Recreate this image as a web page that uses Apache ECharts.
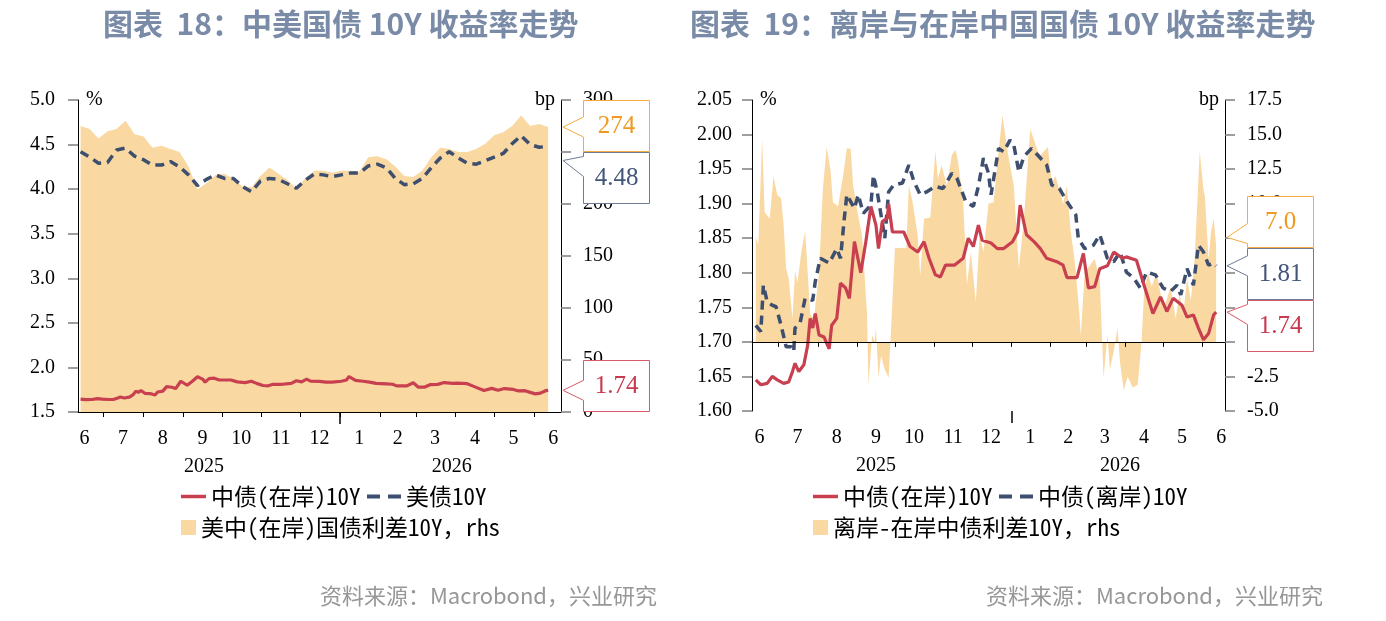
<!DOCTYPE html>
<html><head><meta charset="utf-8">
<script src="https://cdn.jsdelivr.net/npm/echarts@6/dist/echarts.min.js"></script>
<style>html,body{margin:0;padding:0;background:#fff;}#c{width:1386px;height:621px;}</style>
</head><body><div id="c"></div>
<script>
// ---------------- DATA ----------------
// Left chart: weekly (Fridays)
const weeklyDates = ['2025-06-13','2025-06-20','2025-06-27','2025-07-04','2025-07-11','2025-07-18','2025-07-25','2025-08-01','2025-08-08','2025-08-15','2025-08-22','2025-08-29','2025-09-05','2025-09-12','2025-09-19','2025-09-26','2025-10-03','2025-10-10','2025-10-17','2025-10-24','2025-10-31','2025-11-07','2025-11-14','2025-11-21','2025-11-28','2025-12-05','2025-12-12','2025-12-19','2025-12-26','2026-01-02','2026-01-09','2026-01-16','2026-01-23','2026-01-30','2026-02-06','2026-02-13','2026-02-20','2026-02-27','2026-03-06','2026-03-13','2026-03-20','2026-03-27','2026-04-03','2026-04-10','2026-04-17','2026-04-24','2026-05-01','2026-05-08','2026-05-15','2026-05-22','2026-05-29','2026-06-05','2026-06-12'];
const us10y = [4.42,4.36,4.29,4.30,4.44,4.46,4.37,4.33,4.27,4.27,4.31,4.25,4.16,4.04,4.11,4.16,4.12,4.12,4.03,3.97,4.09,4.12,4.11,4.06,4.01,4.10,4.17,4.16,4.14,4.16,4.18,4.18,4.26,4.28,4.24,4.12,4.05,4.06,4.12,4.24,4.35,4.42,4.35,4.29,4.28,4.32,4.36,4.40,4.51,4.60,4.50,4.47,4.48];
const usCnSpread = [275,272,263,270,272,280,267,265,254,256,253,250,236,214,220,228,229,224,217,216,227,235,229,223,215,225,232,232,230,232,232,231,245,246,243,236,227,226,232,245,254,253,250,250,253,258,266,269,275,285,275,277,274];

// China onshore 10Y (both charts)
const cnDates = ['2025-06-13','2025-06-17','2025-06-22','2025-06-26','2025-06-30','2025-07-05','2025-07-09','2025-07-12','2025-07-14','2025-07-17','2025-07-21','2025-07-24','2025-07-26','2025-07-28','2025-07-30','2025-08-02','2025-08-06','2025-08-10','2025-08-12','2025-08-16','2025-08-19','2025-08-23','2025-08-26','2025-08-30','2025-09-04','2025-09-08','2025-09-12','2025-09-16','2025-09-18','2025-09-21','2025-09-25','2025-09-26','2025-09-29','2025-10-08','2025-10-13','2025-10-19','2025-10-24','2025-10-28','2025-11-02','2025-11-06','2025-11-10','2025-11-17','2025-11-24','2025-11-28','2025-12-02','2025-12-06','2025-12-09','2025-12-16','2025-12-21','2025-12-26','2026-01-02','2026-01-06','2026-01-08','2026-01-13','2026-01-19','2026-01-24','2026-01-29','2026-02-06','2026-02-11','2026-02-14','2026-02-22','2026-02-27','2026-03-03','2026-03-08','2026-03-12','2026-03-18','2026-03-23','2026-03-30','2026-04-02','2026-04-10','2026-04-16','2026-04-23','2026-04-29','2026-05-04','2026-05-09','2026-05-16','2026-05-20','2026-05-25','2026-05-29','2026-06-02','2026-06-06','2026-06-10','2026-06-12'];
const cn10y = [1.645,1.638,1.640,1.650,1.645,1.640,1.642,1.657,1.669,1.657,1.667,1.695,1.734,1.720,1.741,1.710,1.707,1.690,1.724,1.734,1.785,1.778,1.763,1.845,1.800,1.845,1.896,1.869,1.835,1.874,1.879,1.900,1.859,1.859,1.838,1.830,1.845,1.821,1.797,1.794,1.811,1.811,1.821,1.850,1.838,1.869,1.847,1.843,1.835,1.835,1.845,1.859,1.898,1.855,1.845,1.835,1.821,1.816,1.811,1.793,1.793,1.828,1.778,1.780,1.806,1.810,1.830,1.821,1.823,1.818,1.782,1.741,1.765,1.744,1.763,1.753,1.736,1.739,1.720,1.703,1.712,1.739,1.743];

// China offshore 10Y
const offDates = ['2025-06-13','2025-06-17','2025-06-19','2025-06-22','2025-06-26','2025-06-29','2025-07-03','2025-07-07','2025-07-11','2025-07-13','2025-07-14','2025-07-18','2025-07-22','2025-07-28','2025-07-30','2025-08-03','2025-08-10','2025-08-16','2025-08-19','2025-08-22','2025-08-24','2025-08-30','2025-09-02','2025-09-06','2025-09-12','2025-09-14','2025-09-17','2025-09-20','2025-09-23','2025-09-26','2025-09-30','2025-10-07','2025-10-12','2025-10-16','2025-10-21','2025-10-26','2025-11-02','2025-11-08','2025-11-15','2025-11-19','2025-11-26','2025-12-02','2025-12-06','2025-12-10','2025-12-14','2025-12-16','2025-12-22','2025-12-26','2025-12-31','2026-01-03','2026-01-07','2026-01-11','2026-01-17','2026-01-22','2026-01-29','2026-02-02','2026-02-08','2026-02-14','2026-02-21','2026-02-23','2026-02-28','2026-03-07','2026-03-12','2026-03-18','2026-03-23','2026-03-28','2026-04-02','2026-04-08','2026-04-13','2026-04-18','2026-04-25','2026-05-01','2026-05-07','2026-05-12','2026-05-15','2026-05-20','2026-05-25','2026-05-29','2026-06-02','2026-06-06','2026-06-10','2026-06-12'];
const off10y = [1.724,1.715,1.782,1.758,1.753,1.751,1.724,1.693,1.693,1.686,1.720,1.727,1.763,1.760,1.787,1.821,1.814,1.835,1.821,1.879,1.913,1.893,1.913,1.886,1.898,1.941,1.917,1.884,1.850,1.917,1.927,1.930,1.956,1.932,1.913,1.917,1.925,1.922,1.944,1.937,1.903,1.896,1.925,1.966,1.944,1.913,1.980,1.975,1.992,1.985,1.946,1.968,1.980,1.970,1.956,1.927,1.922,1.903,1.884,1.850,1.835,1.840,1.855,1.821,1.816,1.830,1.801,1.792,1.778,1.801,1.797,1.778,1.773,1.782,1.768,1.806,1.782,1.840,1.830,1.811,1.814,1.810];

// Offshore - onshore spread (bp)
const sprDates = ['2025-06-13','2025-06-15','2025-06-18','2025-06-20','2025-06-24','2025-06-27','2025-06-30','2025-07-03','2025-07-05','2025-07-07','2025-07-09','2025-07-12','2025-07-14','2025-07-16','2025-07-19','2025-07-22','2025-07-24','2025-07-26','2025-07-29','2025-08-02','2025-08-05','2025-08-08','2025-08-11','2025-08-13','2025-08-17','2025-08-21','2025-08-24','2025-08-27','2025-08-29','2025-09-01','2025-09-05','2025-09-09','2025-09-10','2025-09-13','2025-09-15','2025-09-16','2025-09-18','2025-09-20','2025-09-23','2025-09-26','2025-09-28','2025-10-01','2025-10-10','2025-10-12','2025-10-15','2025-10-19','2025-10-21','2025-10-24','2025-10-29','2025-11-02','2025-11-04','2025-11-07','2025-11-11','2025-11-15','2025-11-18','2025-11-20','2025-11-24','2025-11-27','2025-11-30','2025-12-04','2025-12-07','2025-12-10','2025-12-14','2025-12-18','2025-12-22','2025-12-25','2025-12-29','2026-01-03','2026-01-07','2026-01-11','2026-01-16','2026-01-22','2026-01-24','2026-01-30','2026-02-02','2026-02-05','2026-02-08','2026-02-11','2026-02-14','2026-02-17','2026-02-20','2026-02-23','2026-02-25','2026-02-28','2026-03-04','2026-03-08','2026-03-12','2026-03-15','2026-03-18','2026-03-20','2026-03-23','2026-03-26','2026-03-28','2026-03-31','2026-04-03','2026-04-07','2026-04-11','2026-04-14','2026-04-16','2026-04-19','2026-04-22','2026-04-26','2026-04-29','2026-05-02','2026-05-04','2026-05-07','2026-05-11','2026-05-14','2026-05-17','2026-05-20','2026-05-23','2026-05-26','2026-05-30','2026-06-02','2026-06-03','2026-06-06','2026-06-08','2026-06-10','2026-06-12'];
const offSpread = [7.6,7.0,14.7,9.4,8.9,12.0,10.6,10.4,8.5,5.3,4.6,1.7,5.1,4.3,6.5,8.0,5.1,2.0,1.7,5.0,11.0,14.1,12.5,10.1,9.8,12.0,14.0,14.0,11.3,9.6,7.7,2.0,-3.1,0.5,0.0,1.0,-2.6,-1.0,-2.0,-2.6,1.0,6.8,6.8,11.3,10.1,7.7,4.8,8.9,9.0,13.8,11.8,12.8,11.3,13.5,13.9,13.0,10.1,4.1,6.5,2.9,7.7,6.5,10.0,10.1,13.8,16.4,13.8,11.3,5.3,8.9,15.4,13.8,13.5,14.1,11.5,12.0,11.0,10.0,11.3,8.0,6.0,3.0,0.5,5.0,5.5,6.0,4.5,-2.6,0.5,-2.0,-0.7,1.0,-1.5,-3.5,-2.5,-3.3,-3.1,0.0,3.6,5.0,4.0,5.0,3.5,2.5,3.1,4.0,1.7,3.5,2.0,4.6,3.0,6.0,13.8,11.0,10.6,6.0,8.0,8.9,7.0];

// Axis ranges / tick labels / texts
const axisRangeL = ['2025-06-11','2026-06-22'];
const axisRangeR = ['2025-06-10','2026-06-19'];
const yearLabelDatesL = ['2025-09-17','2026-03-29'];
const yearLabelDatesR = ['2025-09-16','2026-03-28'];
const titles = ['图表  18：中美国债 10Y 收益率走势','图表  19：离岸与在岸中国国债 10Y 收益率走势'];
const sourceText = '资料来源：Macrobond，兴业研究';
const N_CN = '中债(在岸)10Y', N_US = '美债10Y', N_SPL = '美中(在岸)国债利差10Y，rhs';
const N_OFF = '中债(离岸)10Y', N_SPR = '离岸-在岸中债利差10Y，rhs';

// ---------------- STYLE ----------------
const SERIF = '"Liberation Serif","Times New Roman",serif';
const CJK = '"Noto Sans CJK SC","Noto Sans",sans-serif';
const LEGF = '"Noto Sans Mono CJK SC","Noto Sans CJK SC",sans-serif';
const AREA = '#FAD8A2', RED = '#C8404F', NAVY = '#3D4E6E';
const TICK = '#7F7F7F';

function pad(n){return n<10?'0'+n:''+n;}
function dayRange(a,b){
  const p=s=>Date.UTC(+s.slice(0,4),+s.slice(5,7)-1,+s.slice(8,10));
  const out=[]; let t=p(a); const e=p(b);
  while(t<=e){const d=new Date(t); out.push(d.getUTCFullYear()+'-'+pad(d.getUTCMonth()+1)+'-'+pad(d.getUTCDate())); t+=86400000;}
  return out;
}
const daysL = dayRange(axisRangeL[0], axisRangeL[1]);
const daysR = dayRange(axisRangeR[0], axisRangeR[1]);
const zip = (d,v)=>d.map((x,i)=>[x,v[i]]);
const isMonthStart = (i,v)=>v.slice(8)==='01';
const isMidMonth = (i,v)=>v.slice(8)===(v.slice(5,7)==='02'?'15':'16');
const isYearStart = (i,v)=>v.slice(5)==='01-01';

function monthAxis(g, days){
  return {type:'category', gridIndex:g, data:days, boundaryGap:false, position:'bottom', z:5,
    axisLine:{show:true, lineStyle:{color:'#000', width:1}},
    axisTick:{show:true, interval:isMonthStart, length:5, lineStyle:{color:'#000'}},
    axisLabel:{show:true, interval:isMidMonth, formatter:v=>String(+v.slice(5,7)), margin:17, fontFamily:SERIF, fontSize:20, color:'#000'},
    splitLine:{show:false}};
}
function yearAxis(g, days, labelDates){
  return {type:'category', gridIndex:g, data:days, boundaryGap:false, position:'bottom', z:5,
    axisLine:{show:false},
    axisTick:{show:true, interval:isYearStart, length:12, lineStyle:{color:'#000', width:1.5}},
    axisLabel:{show:true, interval:(i,v)=>labelDates.indexOf(v)>=0, formatter:v=>v.slice(0,4), margin:45, fontFamily:SERIF, fontSize:20, color:'#000'},
    splitLine:{show:false}};
}
function valAxis(g, pos, min, max, interval, dec, name, margin){
  return {type:'value', gridIndex:g, position:pos, min, max, interval, z:5,
    name, nameLocation:'end', nameGap:0,
    nameTextStyle:{fontFamily:SERIF, fontSize:20, color:'#000', align: pos==='left'?'left':'right', verticalAlign:'middle',
      padding: pos==='left'?[0,0,0,8]:[0,6,0,0]},
    axisLine:{show:true, lineStyle:{color:'#000', width:1}},
    axisTick:{show:true, length:10, lineStyle:{color:TICK, width:1.5}},
    axisLabel:{formatter:v=>v.toFixed(dec), margin, fontFamily:SERIF, fontSize:20, color:'#000'},
    splitLine:{show:false}};
}
const legText = {fontFamily:LEGF, fontSize:23, color:'#000'};
const ICON_LINE = 'rect';
const ICON_DASH = 'path://M0,0H13V4H0Z M21,0H34V4H21Z';
function leg(left, top, name, w, h, icon){
  return {left, top, padding:0, itemGap:0, itemWidth:w, itemHeight:h, selectedMode:false,
    data:[{name, icon, itemStyle:{borderWidth:0}}], textStyle:legText};
}

const option = {
  animation:false,
  backgroundColor:'#fff',
  title:[
    {text:titles[0], left:103, top:9, padding:0, textStyle:{fontFamily:CJK, fontSize:30, fontWeight:'bold', color:'#7A8BA8'}},
    {text:titles[1], left:690, top:9, padding:0, textStyle:{fontFamily:CJK, fontSize:30, fontWeight:'bold', color:'#7A8BA8'}},
    {text:sourceText, right:1386-657, top:585, padding:0, textStyle:{fontFamily:CJK, fontSize:22, fontWeight:'normal', color:'#979797'}},
    {text:sourceText, right:1386-1323, top:585, padding:0, textStyle:{fontFamily:CJK, fontSize:22, fontWeight:'normal', color:'#979797'}}
  ],
  grid:[
    {left:78, top:100, width:483, height:312, containLabel:false},
    {left:752, top:100, width:473, height:311, containLabel:false}
  ],
  xAxis:[ monthAxis(0, daysL), yearAxis(0, daysL, yearLabelDatesL), monthAxis(1, daysR), yearAxis(1, daysR, yearLabelDatesR) ],
  yAxis:[
    valAxis(0,'left',1.5,5.0,0.5,1,'%',23),
    valAxis(0,'right',0,300,50,0,'bp',22),
    valAxis(1,'left',1.60,2.05,0.05,2,'%',20),
    valAxis(1,'right',-5,17.5,2.5,1,'bp',22)
  ],
  legend:[
    leg(181,485,N_CN,25,3.5,ICON_LINE), leg(367,485,N_US,34,4,ICON_DASH), leg(181,516,N_SPL,15,15,'rect'),
    leg(813,485,N_CN,25,3.5,ICON_LINE), leg(999,485,N_OFF,34,4,ICON_DASH), leg(813,516,N_SPR,15,15,'rect')
  ],
  series:[
    {name:N_SPL, type:'line', xAxisIndex:0, yAxisIndex:1, data:zip(weeklyDates,usCnSpread), symbol:'none', z:1,
      lineStyle:{width:0, color:AREA}, itemStyle:{color:AREA}, areaStyle:{color:AREA, opacity:1}},
    {name:N_US, type:'line', xAxisIndex:0, yAxisIndex:0, data:zip(weeklyDates,us10y), symbol:'none', z:2,
      lineStyle:{width:3.5, color:NAVY, type:[9,6]}, itemStyle:{color:NAVY}},
    {name:N_CN, type:'line', xAxisIndex:0, yAxisIndex:0, data:zip(cnDates,cn10y), symbol:'none', z:3,
      lineStyle:{width:3.2, color:RED}, itemStyle:{color:RED}},
    {name:N_SPR, type:'line', xAxisIndex:2, yAxisIndex:3, data:zip(sprDates,offSpread), symbol:'none', z:1,
      lineStyle:{width:0, color:AREA}, itemStyle:{color:AREA}, areaStyle:{color:AREA, opacity:1}},
    {name:N_OFF, type:'line', xAxisIndex:2, yAxisIndex:2, data:zip(offDates,off10y), symbol:'none', z:2,
      lineStyle:{width:3.5, color:NAVY, type:[9,6]}, itemStyle:{color:NAVY}},
    {name:N_CN, type:'line', xAxisIndex:2, yAxisIndex:2, data:zip(cnDates,cn10y), symbol:'none', z:3,
      lineStyle:{width:3.2, color:RED}, itemStyle:{color:RED}}
  ]
};

const chart = echarts.init(document.getElementById('c'), null, {renderer:'canvas'});
chart.setOption(option);

// ---------------- end-value callouts ----------------
const OR = {border:'#F5AC3C', text:'#EE9A22'}, NV = {border:'#6E7C96', text:'#44557A'}, RD = {border:'#D55A6A', text:'#C83A4E'};
const last = a=>a[a.length-1];
const calloutSets = [
  {xAxis:0, days:daysL, yTop:[0,5.0], yBot:[0,1.5], items:[
    {axis:1, v:last(usCnSpread), dec:0, c:OR},
    {axis:0, v:last(us10y), dec:2, c:NV},
    {axis:0, v:last(cn10y), dec:2, c:RD}]},
  {xAxis:2, days:daysR, yTop:[2,2.05], yBot:[2,1.60], items:[
    {axis:3, v:last(offSpread), dec:1, c:OR},
    {axis:2, v:last(off10y), dec:2, c:NV},
    {axis:2, v:last(cn10y), dec:2, c:RD}]}
];
const H = 52, W = 66;
const gfx = [];
calloutSets.forEach(set=>{
  const ax = chart.convertToPixel({xAxisIndex:set.xAxis}, last(set.days));
  const top = chart.convertToPixel({yAxisIndex:set.yTop[0]}, set.yTop[1]);
  const bot = chart.convertToPixel({yAxisIndex:set.yBot[0]}, set.yBot[1]);
  const items = set.items.map(it=>Object.assign({}, it, {y: chart.convertToPixel({yAxisIndex:it.axis}, it.v)}));
  items.sort((a,b)=>a.y-b.y);
  let groups = items.map(it=>({items:[it], sum:it.y}));
  const place = g=>{const n=g.items.length; let t=g.sum/n - n*H/2; t=Math.max(top, Math.min(bot - n*H, t)); g.top=t;};
  groups.forEach(place);
  let changed=true;
  while(changed){
    changed=false;
    for(let i=0;i<groups.length-1;i++){
      const a=groups[i], b=groups[i+1];
      if(a.top + a.items.length*H > b.top + 0.01){
        a.items=a.items.concat(b.items); a.sum+=b.sum; groups.splice(i+1,1); place(a); changed=true; break;
      }
    }
  }
  groups.forEach(g=>g.items.forEach((it,k)=>{it.top=g.top+k*H;}));
  const L = Math.round(ax)+22.5, R = L+W, tipX = Math.round(ax)+2;
  items.forEach(it=>{
    const t = Math.round(it.top)+0.5, b = t+H-1;
    const tipY = Math.max(t+8, Math.min(b-10, it.y));
    const a1 = Math.max(t+4, Math.min(b-24, tipY-10)), a2 = a1+20;
    gfx.push({type:'polygon', z:100, shape:{points:[[tipX,tipY],[L,a1],[L,t],[R,t],[R,b],[L,b],[L,a2]]},
      style:{fill:'#fff', stroke:it.c.border, lineWidth:1}});
    gfx.push({type:'text', z:101, x:L+W/2, y:(t+b)/2,
      style:{text:it.v.toFixed(it.dec), fill:it.c.text, font:'25px "Liberation Serif", serif', align:'center', verticalAlign:'middle'}});
  });
});
chart.setOption({graphic:gfx});
</script>
</body></html>
